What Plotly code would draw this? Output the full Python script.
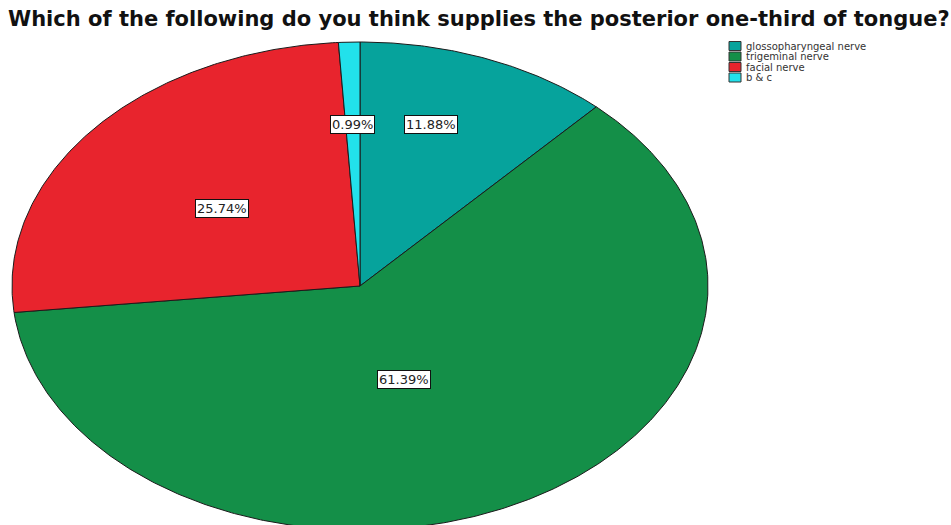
import numpy as np
import plotly.graph_objects as go

# ---- data ----
categories = ["glossopharyngeal nerve", "trigeminal nerve", "facial nerve", "b & c"]
percentages = [11.88, 61.39, 25.74, 0.99]
colors = ["#06A39C", "#148F48", "#E8242D", "#22E1EB"]
title_text = "Which of the following do you think supplies the posterior one-third of tongue?"

# ---- canvas, in window pixel units ----
W, H = 951, 525
# geometry of the horizontally stretched pie
CX, CY = 360, 286
RX, RY = 348, 244

fig = go.Figure()
total = sum(percentages)
start = 0.0
for cat, val, col in zip(categories, percentages, colors):
    a0 = start / total * 2 * np.pi
    a1 = (start + val) / total * 2 * np.pi
    n = max(4, int(np.degrees(a1 - a0) * 2))
    t = np.linspace(a0, a1, n)
    xs = np.concatenate([[CX], CX + RX * np.sin(t), [CX]])
    ys = np.concatenate([[CY], CY - RY * np.cos(t), [CY]])
    fig.add_trace(go.Scatter(
        x=xs, y=ys, mode="lines", fill="toself", fillcolor=col,
        line=dict(color="#1b1b1b", width=1), name=cat,
        hoverinfo="name", showlegend=False))
    start += val

# ---- slice labels (placement in layout space) ----
label_xy = [(431, 124), (404, 379), (222, 208), (352, 124)]
annotations = []
for val, (lx, ly) in zip(percentages, label_xy):
    annotations.append(dict(
        x=lx, y=ly, xref="x", yref="y", text=f"{val:.2f}%", showarrow=False,
        font=dict(family="DejaVu Sans", size=13, color="#222222"),
        bgcolor="white", bordercolor="#111111", borderwidth=1, borderpad=1))

# ---- manual legend ----
shapes = []
LX, LY0, DY = 729, 46, 10.5
for i, (cat, col) in enumerate(zip(categories, colors)):
    y = LY0 + i * DY
    shapes.append(dict(type="rect", xref="x", yref="y",
                       x0=LX, x1=LX + 12, y0=y - 4.5, y1=y + 4.5,
                       fillcolor=col, line=dict(color="#333333", width=1)))
    annotations.append(dict(
        x=LX + 15, y=y, xref="x", yref="y", text=cat, showarrow=False,
        xanchor="left", yanchor="middle",
        font=dict(family="DejaVu Sans", size=10, color="#333333")))

# ---- title ----
annotations.append(dict(
    x=479, y=19, xref="x", yref="y", text=f"<b>{title_text}</b>",
    showarrow=False, xanchor="center", yanchor="middle",
    font=dict(family="DejaVu Sans", size=21, color="#111111")))

fig.update_layout(
    width=W, height=H, autosize=False,
    margin=dict(l=0, r=0, t=0, b=0),
    paper_bgcolor="white", plot_bgcolor="white",
    xaxis=dict(range=[0, W], visible=False, fixedrange=True),
    yaxis=dict(range=[H, 0], visible=False, fixedrange=True),
    shapes=shapes, annotations=annotations, showlegend=False,
)

fig.write_html(
    "out.html",
    config={"displayModeBar": False},
    post_script="document.body.style.margin='0px';document.body.style.overflow='hidden';",
)
